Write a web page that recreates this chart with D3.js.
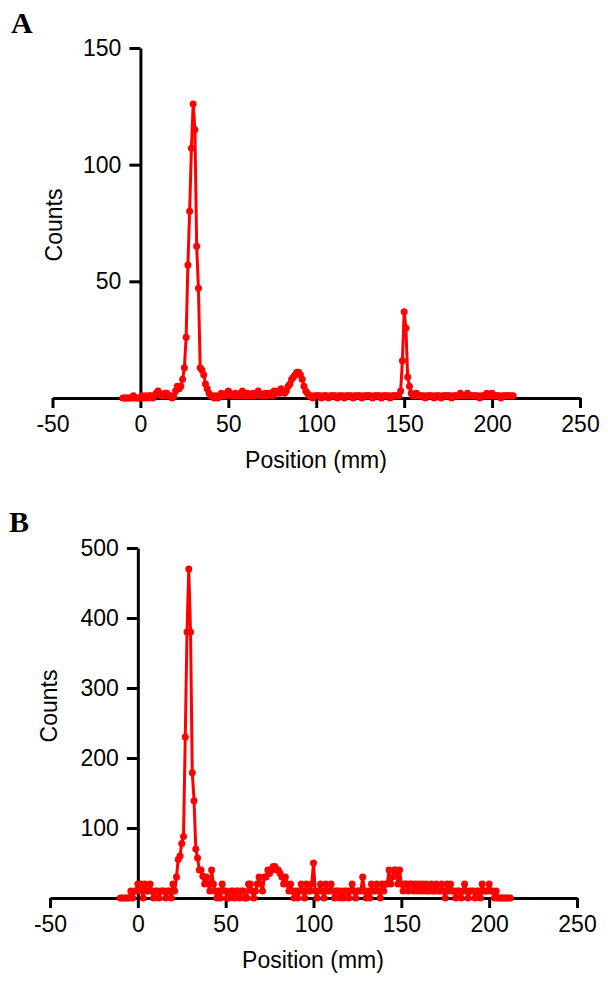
<!DOCTYPE html>
<html>
<head>
<meta charset="utf-8">
<script src="https://d3js.org/d3.v7.min.js"></script>
<style>
  body { margin: 0; padding: 0; background: #fff; }
  text { font-family: "Liberation Sans", Arial, sans-serif; }
</style>
</head>
<body>
<svg id="chart" width="608" height="986"></svg>
<script>
// ---- data ----
// detector positions, one reading every mm from -10 to 212
const positionsMm = d3.range(-10, 213);

const countsA = [
  0,0,0,0,0,0,1,0,0,0,            // -10..-1
  0,1,0,1,0,1,1,0,1,2,            // 0..9
  3,2,1,1,2,2,1,1,0,1,            // 10..19
  3,5,4,5,8,13,26,57,80,107,      // 20..29
  126,115,65,47,13,12,10,6,4,2,   // 30..39
  1,1,0,1,0,1,2,1,1,2,            // 40..49
  3,2,1,1,2,1,1,2,3,1,            // 50..59
  1,2,1,1,2,1,2,3,2,1,            // 60..69
  1,2,1,2,2,1,3,2,3,2,            // 70..79
  4,3,2,3,5,6,8,9,10,11,          // 80..89
  11,10,8,5,3,2,1,1,0,1,          // 90..99
  1,1,1,0,1,1,1,0,1,1,            // 100..109
  1,1,0,1,1,1,0,1,1,1,            // 110..119
  1,0,1,1,1,1,0,1,1,1,            // 120..129
  1,1,0,1,1,1,1,0,1,1,            // 130..139
  1,1,0,1,1,1,1,1,3,16,           // 140..149
  37,30,9,5,2,1,1,2,1,1,          // 150..159
  1,1,0,1,1,1,1,0,1,1,            // 160..169
  1,0,1,1,1,1,1,0,1,1,            // 170..179
  1,1,2,1,1,1,2,1,1,1,            // 180..189
  1,1,1,0,1,1,1,2,1,1,            // 190..199
  2,1,1,1,1,0,1,1,1,1,            // 200..209
  1,1,1                           // 210..212
];

const countsB = [
  0,0,0,0,0,0,10,0,10,10,             // -10..-1
  20,10,20,0,20,10,10,20,10,0,        // 0..9
  10,10,0,10,10,10,0,10,10,0,         // 10..19
  20,10,30,55,60,78,88,230,380,470,   // 20..29
  380,179,139,70,57,40,40,31,20,30,   // 30..39
  20,10,40,20,10,0,10,0,20,10,        // 40..49
  10,0,0,10,10,0,10,10,0,10,          // 50..59
  10,0,0,20,20,10,0,10,20,30,         // 60..69
  20,10,30,30,40,35,40,45,45,40,      // 70..79
  40,35,30,20,30,20,10,20,10,0,       // 80..89
  10,0,10,20,10,0,20,10,10,20,        // 90..99
  50,10,0,10,20,10,0,20,10,10,        // 100..109
  20,10,0,10,10,0,10,0,10,10,         // 110..119
  0,10,20,10,0,10,10,10,30,10,        // 120..129
  0,10,0,20,10,10,20,10,0,20,         // 130..139
  10,20,20,40,20,30,40,40,20,40,      // 140..149
  20,10,20,20,10,20,20,10,20,10,      // 150..159
  20,10,20,10,20,10,10,20,10,10,      // 160..169
  20,10,10,20,10,0,20,10,20,10,       // 170..179
  10,0,10,10,0,10,20,10,0,10,         // 180..189
  10,10,0,10,10,0,20,10,10,10,        // 190..199
  20,10,10,0,10,0,0,0,0,0,            // 200..209
  0,0,0                               // 210..212
];

const xTicks = [-50, 0, 50, 100, 150, 200, 250];
const yTicksA = [50, 100, 150];
const yTicksB = [100, 200, 300, 400, 500];

const svg = d3.select("#chart");

function drawPanel(cfg) {
  const x = d3.scaleLinear().domain([-50, 250]).range([cfg.x0, cfg.x1]);
  const y = d3.scaleLinear().domain([0, cfg.yMax]).range([cfg.yBase, cfg.yTop]);
  const g = svg.append("g");

  // x axis sits on y = 0, plain hyphen for negatives
  const xAxis = g.append("g")
    .attr("transform", "translate(0," + y(0) + ")")
    .call(d3.axisBottom(x).tickValues(xTicks).tickFormat(d => String(d))
      .tickSize(10).tickSizeOuter(0).tickPadding(8));

  // y axis crosses at x = 0
  const yAxis = g.append("g")
    .attr("transform", "translate(" + x(0) + ",0)")
    .call(d3.axisLeft(y).tickValues(cfg.yTicks).tickFormat(d => String(d))
      .tickSize(11).tickSizeOuter(0).tickPadding(8));

  [xAxis, yAxis].forEach(a => {
    a.select(".domain").attr("stroke", "#000").attr("stroke-width", 3);
    a.selectAll(".tick line").attr("stroke", "#000").attr("stroke-width", 3);
    a.selectAll(".tick text")
      .attr("fill", "#000")
      .style("font-family", "'Liberation Sans', Arial, sans-serif")
      .style("font-size", "23px");
  });

  const pts = positionsMm.map((p, i) => [p, cfg.counts[i]]);

  const line = d3.line().x(d => x(d[0])).y(d => y(d[1]));

  g.append("path")
    .datum(pts)
    .attr("d", line)
    .attr("fill", "none")
    .attr("stroke", "#ff0000")
    .attr("stroke-width", 3)
    .attr("stroke-linejoin", "round");

  g.selectAll("circle.pt").data(pts)
    .join("circle")
    .attr("class", "pt")
    .attr("cx", d => x(d[0]))
    .attr("cy", d => y(d[1]))
    .attr("r", 3.5)
    .attr("fill", "#ff0000");

  // panel letter
  g.append("text")
    .attr("x", cfg.letterX).attr("y", cfg.letterY)
    .style("font-family", "'Liberation Serif', 'Times New Roman', serif")
    .style("font-weight", "bold")
    .style("font-size", "30px")
    .text(cfg.letter);

  g.append("text")
    .attr("transform", "translate(" + cfg.countsX + "," + cfg.countsY + ") rotate(-90)")
    .attr("text-anchor", "middle")
    .style("font-size", "23px")
    .text("Counts");

  g.append("text")
    .attr("x", cfg.posX).attr("y", cfg.posY)
    .attr("text-anchor", "middle")
    .style("font-size", "23px")
    .text("Position (mm)");
}

drawPanel({
  counts: countsA, yMax: 150, yTicks: yTicksA,
  x0: 52.5, x1: 580, yBase: 398, yTop: 48,
  letter: "A", letterX: 11, letterY: 33,
  countsX: 62, countsY: 225,
  posX: 316, posY: 468
});

drawPanel({
  counts: countsB, yMax: 500, yTicks: yTicksB,
  x0: 50, x1: 577, yBase: 898, yTop: 548,
  letter: "B", letterX: 9, letterY: 532,
  countsX: 57, countsY: 706,
  posX: 313, posY: 968
});
</script>
</body>
</html>
